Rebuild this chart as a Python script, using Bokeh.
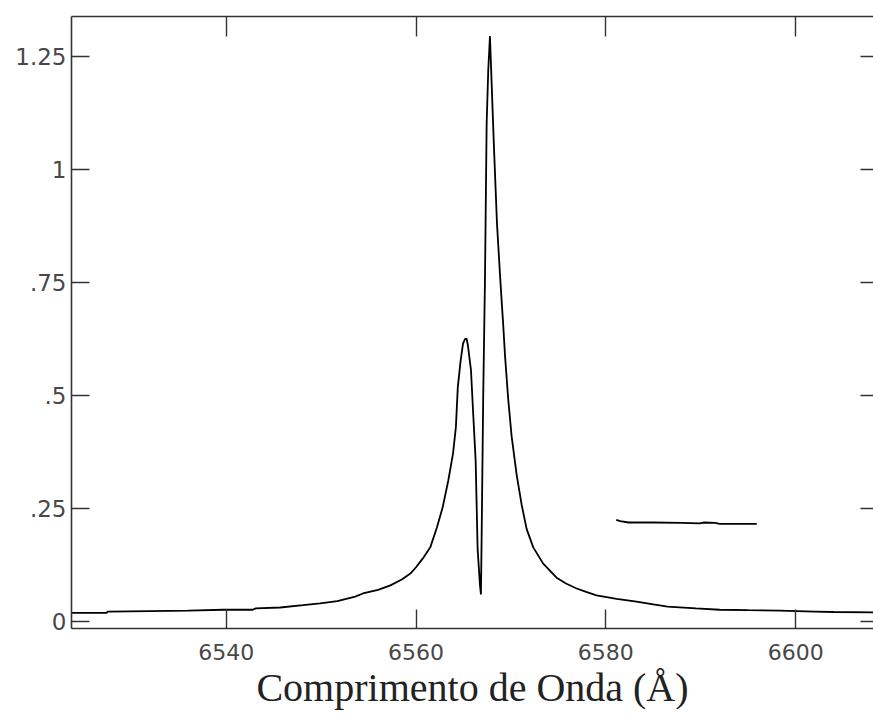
from bokeh.plotting import figure
from bokeh.models import LinearAxis, FixedTicker, Range1d
from bokeh.embed import file_html
from bokeh.resources import INLINE

# Main spectrum (wavelength in Angstrom, normalised flux)
wavelength = [6523.7, 6527.4, 6527.5, 6532.0, 6536.0, 6539.7, 6542.8, 6543.1,
              6545.7, 6548.1, 6549.9, 6551.7, 6553.6, 6554.4, 6556.0, 6557.3,
              6558.5, 6559.4, 6560.0, 6560.7, 6561.5, 6562.2, 6562.8, 6563.4,
              6563.9, 6564.2, 6564.4, 6564.7, 6564.95, 6565.16, 6565.34,
              6565.47, 6565.79, 6566.03, 6566.28, 6566.49, 6566.74, 6566.84,
              6566.92, 6567.08, 6567.26, 6567.44, 6567.61, 6567.79, 6567.95,
              6568.21, 6568.53, 6568.84, 6569.05, 6569.19, 6569.37, 6569.72,
              6570.07, 6570.6, 6571.13, 6571.65, 6572.35, 6573.4, 6574.81,
              6575.8, 6576.92, 6578.0, 6579.02, 6581.13, 6583.23, 6585.0,
              6586.5, 6589.5, 6592.0, 6595.0, 6598.3, 6602.0, 6604.0, 6608.2]
flux = [0.019, 0.019, 0.022, 0.023, 0.024, 0.026, 0.026, 0.029,
        0.031, 0.036, 0.040, 0.045, 0.055, 0.062, 0.070, 0.080,
        0.093, 0.106, 0.120, 0.139, 0.164, 0.208, 0.252, 0.312,
        0.372, 0.43, 0.518, 0.577, 0.615, 0.625, 0.625,
        0.61, 0.556, 0.457, 0.357, 0.16, 0.08, 0.06,
        0.2, 0.5, 0.75, 1.1, 1.22, 1.295, 1.2,
        1.05, 0.88, 0.77, 0.70, 0.655, 0.59, 0.49,
        0.41, 0.325, 0.258, 0.205, 0.164, 0.128, 0.097,
        0.084, 0.073, 0.065, 0.058, 0.050, 0.044, 0.038,
        0.033, 0.029, 0.026, 0.025, 0.024, 0.022, 0.021, 0.020]

# Separate short segment
seg_wavelength = [6581.1, 6581.5, 6582.4, 6585.0, 6588.0, 6589.9, 6590.3, 6591.5, 6592.0, 6595.9]
seg_flux = [0.225, 0.222, 0.219, 0.219, 0.218, 0.217, 0.219, 0.218, 0.216, 0.216]

x_ticks = [6540, 6560, 6580, 6600]
y_ticks = [0, 0.25, 0.5, 0.75, 1.0, 1.25]
y_tick_labels = {0: "0", 0.25: ".25", 0.5: ".5", 0.75: ".75", 1: "1", 1.25: "1.25"}
x_label = "Comprimento de Onda (Å)"

p = figure(width=873, height=717, output_backend="svg", toolbar_location=None,
           x_range=Range1d(6523.7, 6608.2), y_range=Range1d(-0.0155, 1.3385),
           x_axis_location=None, y_axis_location=None,
           min_border_left=71, min_border_top=16, min_border_right=0,
           min_border_bottom=89)
p.outline_line_color = None
p.xgrid.visible = False
p.ygrid.visible = False
p.background_fill_color = "white"
p.border_fill_color = "white"

axis_col = "#333333"
label_col = "#484848"

def style(ax, length):
    ax.major_tick_in = length
    ax.major_tick_out = 0
    ax.minor_tick_in = 0
    ax.minor_tick_out = 0
    ax.major_tick_line_color = axis_col
    ax.major_tick_line_width = 1.4
    ax.axis_line_color = axis_col
    ax.axis_line_width = 1.6
    ax.major_label_text_font = "DejaVu Sans"
    ax.major_label_text_font_size = "22px"
    ax.major_label_text_color = label_col

bottom = LinearAxis(ticker=FixedTicker(ticks=x_ticks))
style(bottom, 19)
bottom.major_label_standoff = 15
bottom.axis_label = x_label
bottom.axis_label_text_font = "Liberation Serif"
bottom.axis_label_text_font_style = "normal"
bottom.axis_label_text_font_size = "40px"
bottom.axis_label_text_line_height = 0.9
bottom.axis_label_text_color = "#222222"
bottom.axis_label_standoff = 2
p.add_layout(bottom, "below")

left = LinearAxis(ticker=FixedTicker(ticks=y_ticks))
style(left, 18)
left.major_label_text_font_size = "23px"
left.major_label_overrides = y_tick_labels
left.major_label_standoff = 5
p.add_layout(left, "left")

top = LinearAxis(ticker=FixedTicker(ticks=x_ticks))
style(top, 20)
top.major_label_overrides = {t: "" for t in x_ticks}
top.major_label_standoff = 0
p.add_layout(top, "above")

right = LinearAxis(ticker=FixedTicker(ticks=y_ticks))
style(right, 13)
right.axis_line_color = None
right.major_label_overrides = {t: "" for t in y_ticks}
right.major_label_standoff = 0
p.add_layout(right, "right")

p.line(wavelength, flux, line_color="black", line_width=1.8)
p.line(seg_wavelength, seg_flux, line_color="black", line_width=1.8)

open("out.html", "w").write(file_html(p, INLINE))
